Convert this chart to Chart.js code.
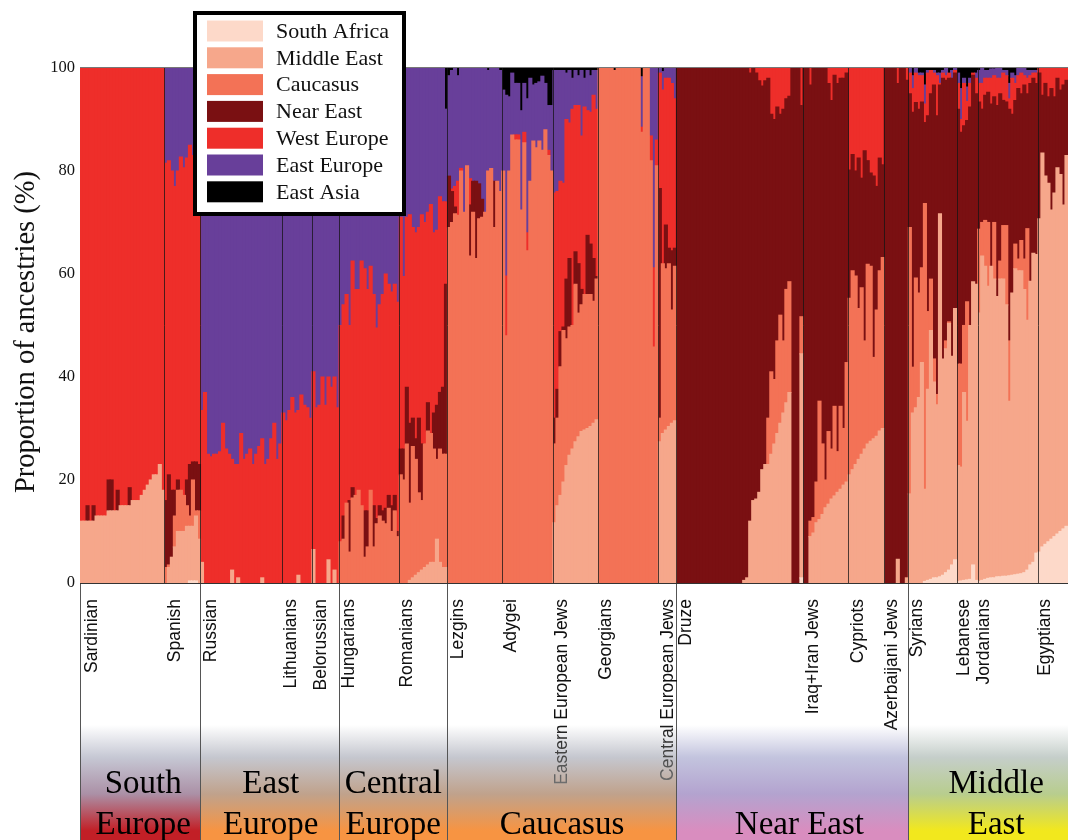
<!DOCTYPE html>
<html>
<head>
<meta charset="utf-8">
<title>Proportion of ancestries</title>
<script src="https://cdn.jsdelivr.net/npm/chart.js@4"></script>
<style>
  html, body { margin: 0; padding: 0; background: #fff; }
  canvas { display: block; }
</style>
</head>
<body>
<canvas id="chart" width="1068" height="840"></canvas>
<script>
// Populations and how many individuals (bars) each one has
const populations = ['Sardinian', 'Spanish', 'Russian', 'Lithuanians', 'Belorussian', 'Hungarians', 'Romanians',
  'Lezgins', 'Adygei', 'Eastern European Jews', 'Georgians', 'Central European Jews', 'Druze', 'Iraq+Iran Jews',
  'Cypriots', 'Azerbaijani Jews', 'Syrians', 'Lebanese', 'Jordanians', 'Egyptians'];
const populationSizes = [28, 12, 27, 10, 9, 20, 16, 18, 17, 15, 20, 6, 42, 15, 12, 8, 16, 7, 20, 10];
// Distance in px from the left edge of a population to its rotated name
const populationLabelInset = [12, 11, 11, 9, 9, 10, 8, 11, 9, 9, 8, 10, 10, 10, 10, 8, 9, 8, 7, 7];

// Regions: name lines and how many populations they hold
const regionLines = [['South', 'Europe'], ['East', 'Europe'], ['Central', 'Europe'], ['Caucasus'], ['Near East'], ['Middle', 'East']];
const regionPopulations = [2, 3, 2, 5, 4, 4];

const ancestryNames = ['South Africa', 'Middle East', 'Caucasus', 'Near East', 'West Europe', 'East Europe', 'East Asia'];
const ancestryColors = ['#fdd9c9', '#f6a78b', '#f37256', '#7a1012', '#ee2e2a', '#683f9a', '#000000'];

// Ancestry values, as the upper edge of each band (one line per population)
const southAfricaTop = [
  0,0,0,0,0,0,0,0,0,0,0,0,0,0,0,0,0,0,0,0,0,0,0,0,0,0,0,0,
  0,0,0,0,0,0,0,0,.4,.4,.4,0,
  0,0,0,0,0,0,0,0,0,0,0,0,0,0,0,0,0,0,0,0,0,0,0,0,0,0,0,
  0,0,0,0,0,0,0,0,0,0,
  0,0,0,0,0,0,0,0,0,
  0,0,0,0,0,0,0,0,0,0,0,0,0,0,0,0,0,0,0,0,
  0,0,0,0,0,0,0,0,0,0,0,0,0,0,0,0,
  0,0,0,0,0,0,0,0,0,0,0,0,0,0,0,0,0,0,
  0,0,0,0,0,0,0,0,0,0,0,0,0,0,0,0,0,
  0,0,0,0,0,0,0,0,0,0,0,0,0,0,0,
  0,0,0,0,0,0,0,0,0,0,0,0,0,0,0,0,0,0,0,0,
  0,0,0,0,0,0,
  0,0,0,0,0,0,0,0,0,0,0,0,0,0,0,0,0,0,0,0,0,0,0,0,0,0,0,0,0,0,0,0,0,0,0,0,0,0,0,0,0,1,
  0,0,0,0,0,0,0,0,0,0,0,0,0,0,0,
  0,0,0,0,0,0,0,0,0,0,0,0,
  0,0,0,0,0,0,0,0,
  0,0,0,0,0,.3,.5,.7,1,1,1.2,1.5,2,2.5,3.5,4.5,
  .3,.4,.5,.6,.7,3.5,.5,
  .3,.5,.7,.9,1,1,1.2,1.2,1.3,1.3,1.4,1.5,1.6,1.7,1.8,2,2.5,3.5,4,5.8,
  6,7,7.5,8,8.5,9,9.5,10,10.5,11
];
const middleEastTop = [
  12,12,12,12,12,13,13,13,13,14,14,14,14,15,15,15,15,16,16,16,17,18,19,20,21,21,23,18,
  0,3,5,7,10,10,10,11,11,11,13,8.5,
  4,0,0,0,0,0,0,0,0,0,2.5,0,1,0,0,0,0,0,0,0,1,0,0,0,0,0,0,
  0,0,0,0,0,1.5,0,0,0,0,
  6.5,0,0,0,0,4.5,0,2.5,0,
  0,0,0,0,0,0,0,0,0,0,0,0,0,0,0,0,0,0,0,0,
  0,0,0,.5,1,1.5,2,2.5,3,3.5,4,4,8.5,4,3,3,
  0,0,0,0,0,0,0,0,0,0,0,0,0,0,0,0,0,0,
  0,0,0,0,0,0,0,0,0,0,0,0,0,0,0,0,0,
  11.7,15,17,19.6,22.8,24.8,26,27.4,28.4,29.4,29.7,30,30.4,31,31.7,
  0,0,0,0,0,0,0,0,0,0,0,0,0,0,0,0,0,0,0,0,
  27.4,29,29.7,30.4,31,31.5,
  0,0,0,0,0,0,0,0,0,0,0,0,0,0,0,0,0,0,0,0,0,0,.5,1,12,16,16.3,17.6,22,23,23,25,27,29,31,33,35,37,0,0,0,44.5,
  0,0,9,9.7,11.7,12.3,13.3,14.6,15.3,16.3,16.9,17.6,18.2,19,19.6,
  21,22,23,24,25,26,27,27.5,28,28.5,29.5,30,
  0,0,0,0,4.6,0,0,1,
  17.3,33,34,36,42.8,18.2,37.6,49,39,34.6,71.7,43.5,45.5,50.4,44,53.3,
  22.8,22.5,37,31.4,50,58.5,58,
  52.4,63.5,61.5,57.6,61.5,59,55.6,59,59,54,35.3,56.3,61,60.6,60.6,57,51,58.6,64,63.8,
  70.7,83.5,79,77.6,72.4,75.7,80.6,79.3,73.4,83
];
const caucasusTop = [
  12,12,12,12,12,13,13,13,13,14,14,14,14,15,15,15,15,16,16,16,17,18,19,20,21,21,23,18,
  3,3.5,5,13,18,18,17,15,13,20,14,14,
  4,0,0,0,0,0,0,0,0,0,2.5,0,1,0,0,0,0,0,0,0,1,0,0,0,0,0,0,
  0,0,0,0,0,1.5,0,0,0,0,
  6.5,0,0,0,0,4.5,0,2.5,0,
  8,8.5,15.5,6,16.5,17,18,15,5,7,18,7,11.5,13,12,11.5,14.5,10,14,9,
  21,20,27,15.5,26.5,24,17.5,16,27,29.5,29,26,24,26,25,25,
  69,70,71.7,71.4,80,72,81,63.5,72,63,70.7,71,72,80,80.5,69,78,76,
  80,48,80,87,86,86,72.4,85.5,64.5,78,85.8,84.5,85.8,84,88,83,80,
  27,32,42,49,47.4,49.7,50,58,52.4,54,56,56,56,54.7,59,
  100,100,100,100,100,99.5,100,100,100,100,100,100,100,100,87.5,100,100,82,45.8,81,
  32,62,61,62,53,61.5,
  0,0,0,0,0,0,0,0,0,0,0,0,0,0,0,0,0,0,0,0,0,0,.5,1,12,16,16.3,17.6,22,23,32,41,39.5,47,52,47,57,58.5,0,0,0,51.7,
  0,0,12,12.7,19.6,35.3,27,20,29.4,26,34.3,25.5,34.3,30,42.8,
  55.3,60.6,59.6,53.3,57.3,47,61.9,61.5,43.8,53,60.6,63.2,
  0,0,0,0,4.6,0,0,1,
  69,41.9,59.2,56.3,61.2,73.7,52.7,59,43.5,36.6,71.7,43.5,47,50.7,44,53.3,
  42.5,42.5,50,54.6,50,58.5,58,
  68.7,70,70.4,70,61.5,70,55.6,62.5,69.4,69.4,47,56.3,65.8,62.9,66.5,62.9,68.8,58.6,64,63.8,
  70.7,83.5,79,77.6,72.4,75.7,80.6,79.3,73.4,83
];
const nearEastTop = [
  12,12,15,12,15,13,13,13,13,20,20,14,18,15,15,15,18.5,16,16,16,17,18,19,20,21,21,23,18,
  16,21,18,18,20,18,17,20,23,23.5,23.5,23,
  4,0,0,0,0,0,0,0,0,0,2.5,0,1,0,0,0,0,0,0,0,1,0,0,0,0,0,0,
  0,0,0,0,0,1.5,0,0,0,0,
  6.5,0,0,0,0,4.5,0,2.5,0,
  8,13,15.5,16,18.5,17,18,15,14,14,18,15,12.5,15,14,14.5,17,15,17,10,
  26,26,38,31,32,28,32,27,27,35,29,33,34.5,37,38,58,
  79,76,73,71.4,80,72,81,73.4,78,78,77.5,74.5,72,80,80.5,78,78,76,
  80,48,80,87,86,86,72.4,85.5,64.5,78,85.8,84.5,85.8,84,88,83,80,
  32,37.6,48.8,49.7,59,63,50,64.3,62,57,56,67.5,65.8,63,59.5,
  100,100,100,100,100,99.5,100,100,100,100,100,100,100,100,87.5,100,100,82,45.8,81,
  76.6,62,69.5,65,64.5,65,
  100,100,100,100,100,100,100,100,100,100,100,100,100,100,100,100,100,100,100,100,100,100,100,100,99,100,99,97.5,96.5,97.5,98,91,90,92.4,91,92,94,94.5,100,100,100,92.7,
  100,100,96.7,100,100,100,100,100,97,93.7,98.6,97,98,98,99,
  80.2,83.2,80,82.5,78.6,83.9,82,79.6,79,77,82.5,81.2,
  100,100,100,100,97,100,100,97.6,
  95,91.4,93.3,92,93.4,89.4,90.7,95,96.7,90.7,96.7,98,97.6,98,98,99,
  92,87.5,88.8,89.8,92.4,98.6,95,
  93.4,92,94.7,95.3,93,94.4,92.7,95,93.7,93.4,92,91,93.7,96,95,96.7,95,97,98,97,
  99,94.7,97,94.4,96,94.4,98,95.7,96.7,97.6
];
const westEuropeTop = [
  100,100,100,100,100,100,100,100,100,100,100,100,100,100,100,100,100,100,100,100,100,100,100,100,100,100,100,100,
  81.5,82,80,77,80,82.7,80.6,82.5,85,83,82,80,
  33.5,37,25,24.5,25,25,25.5,31,26,25,24,23,23,29,24,25,26,23,25,26.5,28,23,24,28,31,24,27,
  33,31.5,33.5,36,33,33.5,36.5,34.5,34,32,
  41,34,34.5,40,34.5,40,38,40,34,
  50,54,56,50,62.5,57,57,62.5,61,57,61.5,56,49.5,54,56,60,58,56.5,58,54.5,
  71,59.5,71,71.5,69,68,69,71.5,70,72,73.5,68,68.5,75,74,74,
  79,76.5,77,78,80.5,72,81,78.5,78,77,77,74.5,72,80,80.5,78,78,76,
  80,59.6,80,87,87,87,72.4,87.5,68,78,85.8,84.5,85.8,84,88,84,80,
  75.7,76,78,77.6,90,89.3,92,92.7,92.7,86.8,92.4,91.7,91.4,94.7,92,
  100,100,100,100,100,99.5,100,100,100,100,100,100,100,100,88.5,100,100,86.8,61.2,86,
  99,95.7,98,98,97,94,
  100,100,100,100,100,100,100,100,100,100,100,100,100,100,100,100,100,100,100,100,100,100,100,100,100,100,100,100,100,100,100,100,100,100,100,100,100,100,100,100,100,100,
  100,100,100,100,100,100,100,100,100,100,100,100,100,100,100,
  100,100,100,100,100,100,100,100,100,100,100,100,
  100,100,100,100,100,100,100,100,
  99,96,99,98.5,98.5,93,99,99.5,99,98.5,97,99,98.5,99,98,99.5,
  97,90,97,93.5,97,99,98,
  97,97,98,98,98,98.5,98,98,99,98.5,94,98,97,98.5,99,98.5,98,98.5,99,99,
  100,100,100,100,100,100,100,100,100,100
];
const eastEuropeTop = [
  100,100,100,100,100,100,100,100,100,100,100,100,100,100,100,100,100,100,100,100,100,100,100,100,100,100,100,100,
  100,100,100,100,100,100,100,100,100,100,100,100,
  100,100,100,100,100,100,100,100,100,100,100,100,100,100,100,100,100,100,100,100,100,100,100,100,100,100,100,
  100,100,100,100,100,100,100,100,100,100,
  100,100,100,100,100,100,100,100,100,
  100,100,100,100,100,100,100,100,100,100,100,100,100,100,100,100,100,100,100,100,
  100,100,100,100,100,100,100,100,100,100,100,100,100,100,100,92,
  98.5,99.5,100,98.5,100,100,100,100,100,99,100,100,100,99.5,100,100,100,99.5,
  95.7,94.7,94.4,99,97,97,91.7,97,94,98,96.7,97,97.3,98.4,97,92.7,92.7,
  99.5,99.5,99.5,99.5,99,99.5,98,99.5,98.5,99.5,98,99.5,98.5,99.5,99.5,
  100,100,100,100,100,99.5,100,100,100,100,100,100,100,100,98.3,100,100,100,100,100,
  100,99.3,100,100,100,100,
  100,100,100,100,100,100,100,100,100,100,100,100,100,100,100,100,100,100,100,100,100,100,100,100,100,100,100,100,100,100,100,100,100,100,100,100,100,100,100,100,100,100,
  100,100,100,100,100,100,100,100,100,100,100,100,100,100,100,
  100,100,100,100,100,100,100,100,100,100,100,100,
  100,100,100,100,100,100,100,100,
  100,98.5,100,99,99,96.7,99.5,99.5,99.5,99,99,99.5,100,99,99.5,100,
  99,96,98,96.3,98,99,99,
  99.5,100,99.5,99.5,99.8,99.8,100,100,99.5,99.5,97,99,98.5,100,100,100,99.5,99.5,99.5,99.5,
  100,100,100,100,100,100,100,100,100,100
];
const yTicks = [0, 20, 40, 60, 80, 100];

// Colour fades in the region panels under the chart
const regionFades = [
  ['#c6c8d4', '#ab90a6', '#c21f26'],
  ['#c5c7cf', '#c0a28c', '#f79442'],
  ['#c5c7cf', '#c0a28c', '#f79442'],
  ['#c5c7cf', '#c0a28c', '#f79442'],
  ['#c3c4de', '#b3a3cf', '#d98dbf'],
  ['#c5ceca', '#b8cd8e', '#f2e81d']
];
// Small sideways shift of the region names, they are not quite centred in the original
const regionNudge = [3, 1, 0, 0, 7, 8];

const serif = '"Liberation Serif", serif';
const sans = '"Liberation Sans", sans-serif';

// Helper Functions
// ---------------

// Stacked bars need band sizes, so take the difference of neighbouring edges.
// Empty bands become null, otherwise they draw as thin lines.
function buildDatasets() {
  const edges = [southAfricaTop, middleEastTop, caucasusTop, nearEastTop, westEuropeTop, eastEuropeTop,
    eastEuropeTop.map(() => 100)];
  return ancestryNames.map((name, s) => ({
    label: name,
    backgroundColor: ancestryColors[s],
    borderWidth: 0,
    inflateAmount: 0.55,
    data: edges[s].map((top, i) => {
      const size = s === 0 ? top : top - edges[s - 1][i];
      return size > 0 ? size : null;
    })
  }));
}

function buildLabels() {
  const labels = [];
  populations.forEach((name, p) => {
    for (let n = 1; n <= populationSizes[p]; n++) labels.push(name + ' ' + n);
  });
  return labels;
}

// Pixel of the left edge of bar number i
function barEdge(chart, i) {
  return chart.scales.x.getPixelForValue(i - 0.5);
}

// First bar of every population
function populationStarts() {
  const starts = [];
  let bar = 0;
  populationSizes.forEach(size => {
    starts.push(bar);
    bar += size;
  });
  return starts;
}

// First bar of every region, plus the end of the last one
function regionEdges() {
  const edges = [0];
  let pop = 0;
  let bar = 0;
  regionPopulations.forEach(count => {
    for (let k = 0; k < count; k++) bar += populationSizes[pop++];
    edges.push(bar);
  });
  return edges;
}

// Draws the region panels, separators, rotated names and the legend box
const ancestryFrame = {
  id: 'ancestryFrame',
  beforeDraw(chart) {
    const ctx = chart.ctx;
    const edges = regionEdges();
    ctx.save();
    regionFades.forEach((fade, r) => {
      const x0 = barEdge(chart, edges[r]);
      const x1 = barEdge(chart, edges[r + 1]);
      const grad = ctx.createLinearGradient(0, 725, 0, 840);
      grad.addColorStop(0, '#ffffff');
      grad.addColorStop(0.28, fade[0]);
      grad.addColorStop(0.6, fade[1]);
      grad.addColorStop(0.92, fade[2]);
      grad.addColorStop(1, fade[2]);
      ctx.fillStyle = grad;
      ctx.fillRect(x0, 725, x1 - x0, 115);
    });
    ctx.restore();
  },
  afterDatasetsDraw(chart) {
    const ctx = chart.ctx;
    const area = chart.chartArea;
    const edges = regionEdges();
    const starts = populationStarts();
    ctx.save();

    // Population separators
    ctx.lineWidth = 1;
    ctx.strokeStyle = 'rgba(20,20,20,0.75)';
    starts.slice(1).forEach(bar => {
      const x = Math.round(barEdge(chart, bar)) + 0.5;
      ctx.beginPath();
      ctx.moveTo(x, area.top);
      ctx.lineTo(x, area.bottom);
      ctx.stroke();
    });

    // Region separators run all the way down
    ctx.strokeStyle = '#555';
    edges.slice(0, -1).forEach(bar => {
      const x = Math.round(barEdge(chart, bar)) + 0.5;
      ctx.beginPath();
      ctx.moveTo(x, area.bottom);
      ctx.lineTo(x, 840);
      ctx.stroke();
    });

    // Frame lines
    ctx.strokeStyle = '#777';
    ctx.beginPath();
    ctx.moveTo(area.left, area.top - 0.5);
    ctx.lineTo(area.right, area.top - 0.5);
    ctx.stroke();
    ctx.strokeStyle = '#333';
    ctx.beginPath();
    ctx.moveTo(area.left, area.bottom + 0.5);
    ctx.lineTo(area.right, area.bottom + 0.5);
    ctx.stroke();

    // Axis title, it sits a little below the middle of the axis
    ctx.save();
    ctx.translate(27, 332);
    ctx.rotate(-Math.PI / 2);
    ctx.fillStyle = '#111';
    ctx.font = '28.5px ' + serif;
    ctx.textAlign = 'center';
    ctx.textBaseline = 'middle';
    ctx.fillText('Proportion of ancestries (%)', 0, 0);
    ctx.restore();

    // Rotated population names, fading a bit where they reach the panels
    populations.forEach((name, p) => {
      const x = barEdge(chart, starts[p]) + populationLabelInset[p];
      ctx.save();
      ctx.translate(x, 599);
      ctx.rotate(-Math.PI / 2);
      const fade = ctx.createLinearGradient(-120, 0, -190, 0);
      fade.addColorStop(0, '#111');
      fade.addColorStop(1, '#777');
      ctx.fillStyle = fade;
      ctx.font = '17.5px ' + sans;
      ctx.textAlign = 'right';
      ctx.textBaseline = 'middle';
      ctx.fillText(name, 0, 0);
      ctx.restore();
    });

    // Region names
    ctx.fillStyle = '#000';
    ctx.font = '33px ' + serif;
    ctx.textAlign = 'center';
    ctx.textBaseline = 'alphabetic';
    regionLines.forEach((lines, r) => {
      const mid = (barEdge(chart, edges[r]) + barEdge(chart, edges[r + 1])) / 2 + regionNudge[r];
      lines.forEach((line, l) => {
        const baseline = 834 - (lines.length - 1 - l) * 41;
        ctx.fillText(line, mid, baseline);
      });
    });

    // Legend box
    ctx.fillStyle = '#fff';
    ctx.fillRect(195, 13, 209, 201);
    ctx.strokeStyle = '#000';
    ctx.lineWidth = 4;
    ctx.strokeRect(195, 13, 209, 201);
    ctx.textAlign = 'left';
    ctx.textBaseline = 'middle';
    ctx.font = '22px ' + serif;
    chart.data.datasets.forEach((ds, i) => {
      const y = 31 + i * 26.8;
      ctx.fillStyle = ds.backgroundColor;
      ctx.fillRect(207, y - 10.5, 56, 21);
      ctx.fillStyle = '#111';
      ctx.fillText(ds.label, 276, y + 1);
    });
    ctx.restore();
  }
};

// Initialize the chart
function initChart() {
  const ctx = document.getElementById('chart').getContext('2d');
  new Chart(ctx, {
    type: 'bar',
    data: {
      labels: buildLabels(),
      datasets: buildDatasets()
    },
    plugins: [ancestryFrame],
    options: {
      responsive: false,
      animation: false,
      layout: { padding: { top: 68, bottom: 257, left: 0, right: 0 } },
      datasets: { bar: { barPercentage: 1, categoryPercentage: 1 } },
      plugins: {
        legend: { display: false },
        tooltip: { enabled: false },
        title: { display: false }
      },
      scales: {
        x: { display: false, stacked: true, grid: { display: false } },
        y: {
          stacked: true,
          min: 0,
          max: 100,
          afterBuildTicks(scale) { scale.ticks = yTicks.map(v => ({ value: v })); },
          afterFit(scale) { scale.width = 80; },
          grid: { display: false, drawTicks: false },
          border: { display: true, color: '#666' },
          ticks: {
            padding: 5,
            color: '#111',
            font: { family: serif, size: 16.5 }
          }
        }
      }
    }
  });
}

initChart();
</script>
</body>
</html>
